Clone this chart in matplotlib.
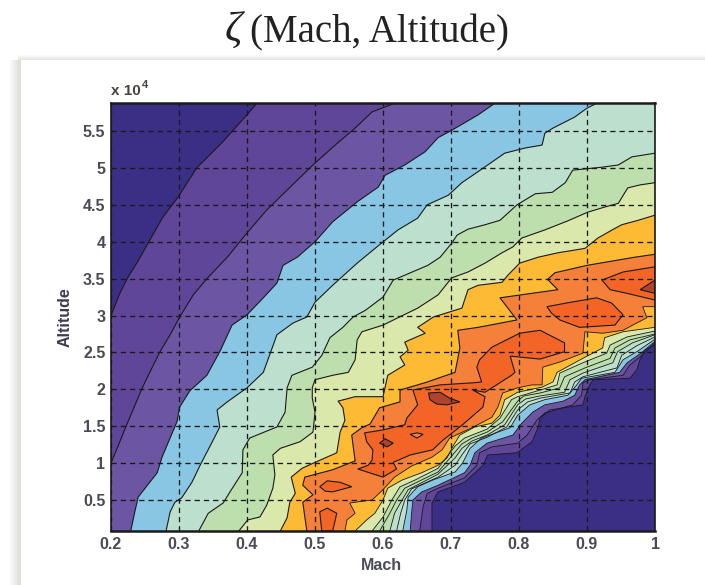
import matplotlib
matplotlib.use('Agg')
import matplotlib.pyplot as plt
from matplotlib.patches import Rectangle

# all altitudes in units of 10^4
xmin, xmax = 0.2, 1.0
ymin, ymax = 0.08, 5.88

mach_ticks = [0.2, 0.3, 0.4, 0.5, 0.6, 0.7, 0.8, 0.9, 1.0]
mach_labels = ['0.2', '0.3', '0.4', '0.5', '0.6', '0.7', '0.8', '0.9', '1']
alt_ticks = [0.5, 1, 1.5, 2, 2.5, 3, 3.5, 4, 4.5, 5, 5.5]
alt_labels = ['0.5', '1', '1.5', '2', '2.5', '3', '3.5', '4', '4.5', '5', '5.5']

band_colors = ['#5f4699', '#6c55a3', '#88c6e4', '#bde0ce', '#bddfad', '#dbe8ac', '#fdbb35', '#f5803a']
base_color = '#3b2f85'
dark_orange = '#f26527'
brown = '#b0432e'

# contour levels, upper left side of the ridge
u1_m = [.2, .213, .225, .238, .257, .276, .299, .326, .363, .40, .415]
u1_a = [3.0, 3.30, 3.52, 3.71, 4.02, 4.33, 4.61, 5.0, 5.34, 5.72, 5.88]
u2_m = [.2, .209, .224, .246, .257, .272, .287, .301, .321, .343, .371, .40, .429, .459, .497, .526, .559, .584, .618]
u2_a = [1.0, 1.2, 1.54, 2.02, 2.23, 2.51, 2.74, 2.98, 3.28, 3.52, 3.79, 4.12, 4.43, 4.70, 5.04, 5.28, 5.54, 5.76, 5.88]
u3_m = [.229, .235, .24, .268, .275, .297, .301, .316, .341, .36, .378, .40, .424, .444, .453, .474, .50, .526, .562, .593, .603, .632, .662, .681, .701, .74, .765]
u3_a = [.08, .34, .54, .87, 1.08, 1.56, 1.76, 1.98, 2.19, 2.51, 2.87, 3.01, 3.24, 3.44, 3.68, 3.79, 4.0, 4.27, 4.54, 4.74, 4.9, 5.04, 5.22, 5.41, 5.51, 5.72, 5.88]
u4_m = [.281, .287, .294, .304, .319, .331, .349, .36, .356, .371, .40, .424, .437, .444, .468, .488, .50, .526, .562, .591, .622, .651, .665, .696, .716, .743, .779, .809, .834, .838, .85, .882, .90, .915]
u4_a = [.08, .34, .47, .53, .74, .97, 1.29, 1.49, 1.72, 1.83, 2.02, 2.23, 2.56, 2.74, 2.90, 2.98, 3.18, 3.41, 3.71, 3.93, 4.16, 4.32, 4.50, 4.63, 4.80, 4.97, 5.2, 5.27, 5.31, 5.47, 5.54, 5.69, 5.81, 5.88]
u5_m = [.329, .343, .365, .375, .393, .394, .404, .444, .456, .459, .466, .496, .51, .522, .541, .556, .574, .60, .615, .643, .666, .684, .701, .709, .725, .75, .772, .784, .797, .824, .849, .868, .879, .922, .946, .966, 1.0]
u5_a = [.08, .32, .46, .61, .87, 1.18, 1.34, 1.49, 1.69, 2.02, 2.19, 2.30, 2.46, 2.70, 2.84, 2.98, 3.07, 3.25, 3.48, 3.59, 3.68, 3.79, 3.98, 4.09, 4.17, 4.23, 4.29, 4.39, 4.5, 4.65, 4.67, 4.80, 4.97, 5.01, 5.04, 5.15, 5.2]
u6_m = [.388, .401, .419, .429, .438, .441, .438, .449, .478, .497, .50, .496, .496, .50, .526, .549, .559, .562, .569, .60, .622, .651, .681, .701, .725, .75, .775, .791, .804, .838, .871, .901, .926, .946, .96, .978, 1.0]
u6_a = [.08, .23, .27, .43, .66, .84, 1.11, 1.2, 1.29, 1.42, 1.69, 1.88, 2.02, 2.13, 2.19, 2.23, 2.40, 2.67, 2.78, 2.87, 2.97, 3.10, 3.28, 3.51, 3.59, 3.71, 3.85, 3.93, 4.05, 4.16, 4.28, 4.40, 4.47, 4.52, 4.73, 4.77, 4.8]
u7_m = [.449, .459, .463, .471, .465, .481, .50, .532, .537, .544, .541, .534, .559, .60, .607, .632, .625, .637, .632, .662, .651, .674, .716, .725, .74, .775, .784, .801, .828, .857, .897, .916, .937, .951, .975, 1.0]
u7_a = [.08, .26, .47, .59, .81, .93, 1.01, 1.14, 1.42, 1.58, 1.75, 1.84, 1.90, 1.90, 2.19, 2.33, 2.44, 2.53, 2.64, 2.76, 2.84, 2.98, 3.10, 3.35, 3.41, 3.45, 3.55, 3.71, 3.79, 3.85, 3.91, 4.05, 4.16, 4.23, 4.29, 4.36]
u8_m = [.488, .482, .497, .482, .485, .526, .559, .554, .569, .581, .595, .625, .625, .662, .706, .713, .71, .74, .797, .772, .857, .842, .853, .90, .97, 1.0]
u8_a = [.08, .47, .57, .70, .81, .91, 1.03, 1.38, 1.48, 1.53, 1.75, 1.83, 1.99, 2.09, 2.23, 2.56, 2.80, 2.84, 2.94, 3.24, 3.35, 3.49, 3.58, 3.68, 3.79, 3.83]

# same levels, lower right side of the ridge
l1_m = [.672, .672, .681, .72, .747, .754, .797, .819, .828, .831, .845, .894, .897, .904, .909, .963, .973, .978, .985, 1.0]
l1_a = [.08, .46, .61, .74, .97, 1.11, 1.14, 1.29, 1.48, 1.61, 1.72, 1.79, 1.90, 2.06, 2.13, 2.15, 2.26, 2.40, 2.53, 2.60]
l2_m = [.654, .659, .665, .681, .72, .738, .742, .76, .798, .812, .826, .838, .879, .892, .894, .904, .953, .963, .978, 1.0]
l2_a = [.08, .41, .59, .66, .80, .97, 1.14, 1.22, 1.27, 1.38, 1.58, 1.68, 1.79, 1.92, 2.09, 2.13, 2.19, 2.33, 2.44, 2.63]
l3_m = [.64, .642, .644, .657, .681, .72, .728, .735, .753, .791, .804, .82, .838, .865, .882, .889, .897, .948, .959, .978, 1.0]
l3_a = [.08, .32, .50, .61, .70, .87, .97, 1.14, 1.27, 1.38, 1.54, 1.69, 1.79, 1.84, 1.92, 2.06, 2.13, 2.23, 2.36, 2.48, 2.65]
l4_m = [.629, .635, .637, .651, .673, .706, .717, .728, .745, .787, .798, .816, .838, .872, .885, .892, .941, .953, .975, 1.0]
l4_a = [.08, .36, .54, .68, .77, .88, 1.0, 1.20, 1.34, 1.48, 1.65, 1.79, 1.86, 1.92, 2.06, 2.15, 2.23, 2.40, 2.52, 2.68]
l5_m = [.61, .617, .628, .637, .681, .706, .716, .731, .753, .779, .798, .81, .831, .867, .875, .894, .938, .945, .967, 1.0]
l5_a = [.08, .32, .50, .64, .85, 1.07, 1.20, 1.30, 1.38, 1.52, 1.79, 1.87, 1.91, 1.96, 2.13, 2.22, 2.36, 2.51, 2.63, 2.74]
l6_m = [.584, .60, .613, .625, .647, .681, .706, .72, .753, .772, .789, .798, .831, .856, .86, .894, .929, .934, .959, 1.0]
l6_a = [.08, .27, .50, .68, .77, .93, 1.23, 1.34, 1.46, 1.61, 1.86, 1.90, 1.99, 2.06, 2.22, 2.36, 2.49, 2.60, 2.71, 2.79]
l7_m = [.559, .576, .588, .60, .607, .628, .657, .681, .694, .703, .713, .735, .76, .772, .779, .798, .834, .85, .856, .894, .923, .926, .953, 1.0]
l7_a = [.08, .23, .32, .50, .66, .77, .87, .97, 1.07, 1.23, 1.38, 1.49, 1.54, 1.65, 1.86, 1.96, 2.03, 2.10, 2.23, 2.42, 2.56, 2.70, 2.78, 2.84]
l8_m = [.544, .547, .559, .551, .584, .60, .617, .642, .672, .687, .698, .731, .76, .769, .776, .798, .819, .834, .835, .86, .894, .897, .923, .953, .988, .982, 1.0]
l8_a = [.08, .23, .32, .46, .50, .64, .81, .96, 1.08, 1.18, 1.34, 1.48, 1.62, 1.76, 1.95, 2.02, 2.06, 2.06, 2.30, 2.37, 2.49, 2.78, 2.76, 2.80, 2.97, 3.12, 3.12]

# extra contour lines inside the mint and green bands, lower side only
x1_m = [.62, .626, .632, .642, .681, .706, .716, .728, .753, .782, .798, .813, .831, .875, .882, .894, .944, .951, .973, 1.0]
x1_a = [.08, .32, .50, .65, .81, .97, 1.11, 1.26, 1.35, 1.49, 1.72, 1.83, 1.88, 1.95, 2.10, 2.17, 2.29, 2.46, 2.59, 2.71]
x2_m = [.595, .61, .62, .632, .681, .706, .716, .731, .753, .776, .798, .807, .831, .86, .867, .897, .934, .941, .963, 1.0]
x2_a = [.08, .32, .50, .66, .88, 1.15, 1.26, 1.34, 1.42, 1.56, 1.84, 1.91, 1.95, 2.02, 2.17, 2.29, 2.42, 2.56, 2.67, 2.75]

upper = [(u1_m, u1_a), (u2_m, u2_a), (u3_m, u3_a), (u4_m, u4_a), (u5_m, u5_a), (u6_m, u6_a), (u7_m, u7_a), (u8_m, u8_a)]
lower = [(l1_m, l1_a), (l2_m, l2_a), (l3_m, l3_a), (l4_m, l4_a), (l5_m, l5_a), (l6_m, l6_a), (l7_m, l7_a), (l8_m, l8_a)]

# closed islands near the ridge
isl_a_m = [.507, .518, .532, .526, .51]
isl_a_a = [.34, .39, .32, .08, .08]
isl_b_m = [.507, .518, .537, .554, .526, .515]
isl_b_a = [.68, .76, .74, .68, .61, .62]
isl_c_m = [.563, .60, .62, .615, .64, .673, .688, .717, .747, .75, .732, .75, .789, .794, .787, .831, .867, .867, .831, .801, .76, .742, .738, .745, .735, .684, .644, .651, .635, .632, .60, .573, .576, .585, .584, .578]
isl_c_a = [.92, .81, .92, 1.01, 1.11, 1.18, 1.31, 1.52, 1.76, 1.90, 1.99, 1.96, 2.19, 2.23, 2.45, 2.41, 2.51, 2.63, 2.80, 2.76, 2.57, 2.40, 2.30, 2.10, 2.09, 2.06, 1.99, 1.79, 1.61, 1.52, 1.45, 1.41, 1.29, 1.18, 1.04, .97]
isl_e_m = [.841, .87, .914, .936, .953, .941, .889, .86, .848]
isl_e_a = [3.12, 3.17, 3.24, 3.17, 3.01, 2.87, 2.84, 2.94, 3.03]
isl_f_m = [.922, .953, 1.0, 1.0, .959, .934]
isl_f_a = [3.48, 3.59, 3.66, 3.21, 3.30, 3.35]
hole_m = [.64, .65, .659, .65]
hole_a = [1.39, 1.41, 1.39, 1.34]
peak_d_m = [.667, .684, .698, .713, .694, .679, .669]
peak_d_a = [1.95, 1.96, 1.88, 1.83, 1.79, 1.80, 1.86]
peak_s_m = [.595, .603, .615, .606]
peak_s_a = [1.27, 1.33, 1.27, 1.22]
peak_g_m = [.978, 1.0, 1.0]
peak_g_a = [3.35, 3.48, 3.30]

islands = [(isl_a_m, isl_a_a, dark_orange), (isl_b_m, isl_b_a, dark_orange), (isl_c_m, isl_c_a, dark_orange),
           (isl_e_m, isl_e_a, dark_orange), (isl_f_m, isl_f_a, dark_orange), (hole_m, hole_a, band_colors[7]),
           (peak_d_m, peak_d_a, brown), (peak_s_m, peak_s_a, brown), (peak_g_m, peak_g_a, brown)]

fig = plt.figure(figsize=(7.05, 5.85), dpi=100)
fig.patch.set_facecolor('white')

# shadow of the pasted panel
for i in range(10):
    fig.add_artist(Rectangle(((8 + i) / 705, 0), 1 / 705, 525 / 585, transform=fig.transFigure, color=str(1 - 0.012 * i), lw=0))
fig.add_artist(Rectangle((18 / 705, 0), 3 / 705, 525 / 585, transform=fig.transFigure, color='#e4dfd4', lw=0))
for i in range(5):
    fig.add_artist(Rectangle((18 / 705, (525 + i) / 585), 687 / 705, 1 / 585, transform=fig.transFigure, color=str(0.90 + 0.02 * i), lw=0))

ax = fig.add_axes([111 / 705, 54 / 585, 544 / 705, 428 / 585])
ax.set_facecolor(base_color)

for k in range(len(upper)):
    um, ua = upper[k]
    lm, la = lower[k]
    xs = list(um)
    ys = list(ua)
    if ua[-1] >= ymax:
        xs.append(xmax)
        ys.append(ymax)
    xs += lm[::-1]
    ys += la[::-1]
    if um[0] == xmin:
        xs.append(xmin)
        ys.append(ymin)
    ax.fill(xs, ys, color=band_colors[k], lw=0, zorder=1)

for m, a, c in islands:
    ax.fill(m, a, facecolor=c, edgecolor='#1a1a1a', lw=0.8, zorder=2)

for m, a in upper:
    ax.plot(m, a, color='#1a1a1a', lw=0.8, zorder=2)
for m, a in lower + [(x1_m, x1_a), (x2_m, x2_a)]:
    ax.plot(m, a, color='#1a1a1a', lw=0.6, zorder=2)

ax.set_xlim(xmin, xmax)
ax.set_ylim(ymin, ymax)
ax.set_xticks(mach_ticks)
ax.set_xticklabels(mach_labels)
ax.set_yticks(alt_ticks)
ax.set_yticklabels(alt_labels)
ax.tick_params(length=0, labelsize=11.5, labelcolor='#4a4a58', pad=4)
for lab in ax.get_xticklabels() + ax.get_yticklabels():
    lab.set_family('Liberation Sans')
    lab.set_weight('bold')
ax.grid(True, color='#1a1a1a', lw=0.95, ls=(0, (4, 3)), zorder=3)
ax.set_axisbelow(False)
for side in ax.spines:
    ax.spines[side].set_color('#1a1a1a')
    ax.spines[side].set_linewidth(1.2)
    ax.spines[side].set_zorder(4)
ax.spines['top'].set_linewidth(1.8)
ax.spines['bottom'].set_linewidth(1.8)

fig.text(381 / 705, 1 - 565 / 585, 'Mach', family='Liberation Sans', fontsize=11.5, weight='bold', color='#4a4a58', ha='center', va='center')
fig.text(65 / 705, 1 - 317 / 585, 'Altitude', family='Liberation Sans', fontsize=11.5, weight='bold', color='#3c3c50', rotation=90, ha='center', va='center')
fig.text(111 / 705, 1 - 95 / 585, 'x 10', family='Liberation Sans', fontsize=11, weight='bold', color='#4a4440', ha='left', va='baseline')
fig.text(142 / 705, 1 - 88 / 585, '4', family='Liberation Sans', fontsize=8, weight='bold', color='#4a4440', ha='left', va='baseline')

fig.text(225 / 705, 1 - 42 / 585, '\u03b6', family='Liberation Serif', style='italic', fontsize=31, color='#222222', ha='left', va='baseline')
fig.text(250 / 705, 1 - 42 / 585, '(Mach, Altitude)', family='Liberation Serif', fontsize=28, color='#222222', ha='left', va='baseline')

fig.savefig('out.png', dpi=100)
